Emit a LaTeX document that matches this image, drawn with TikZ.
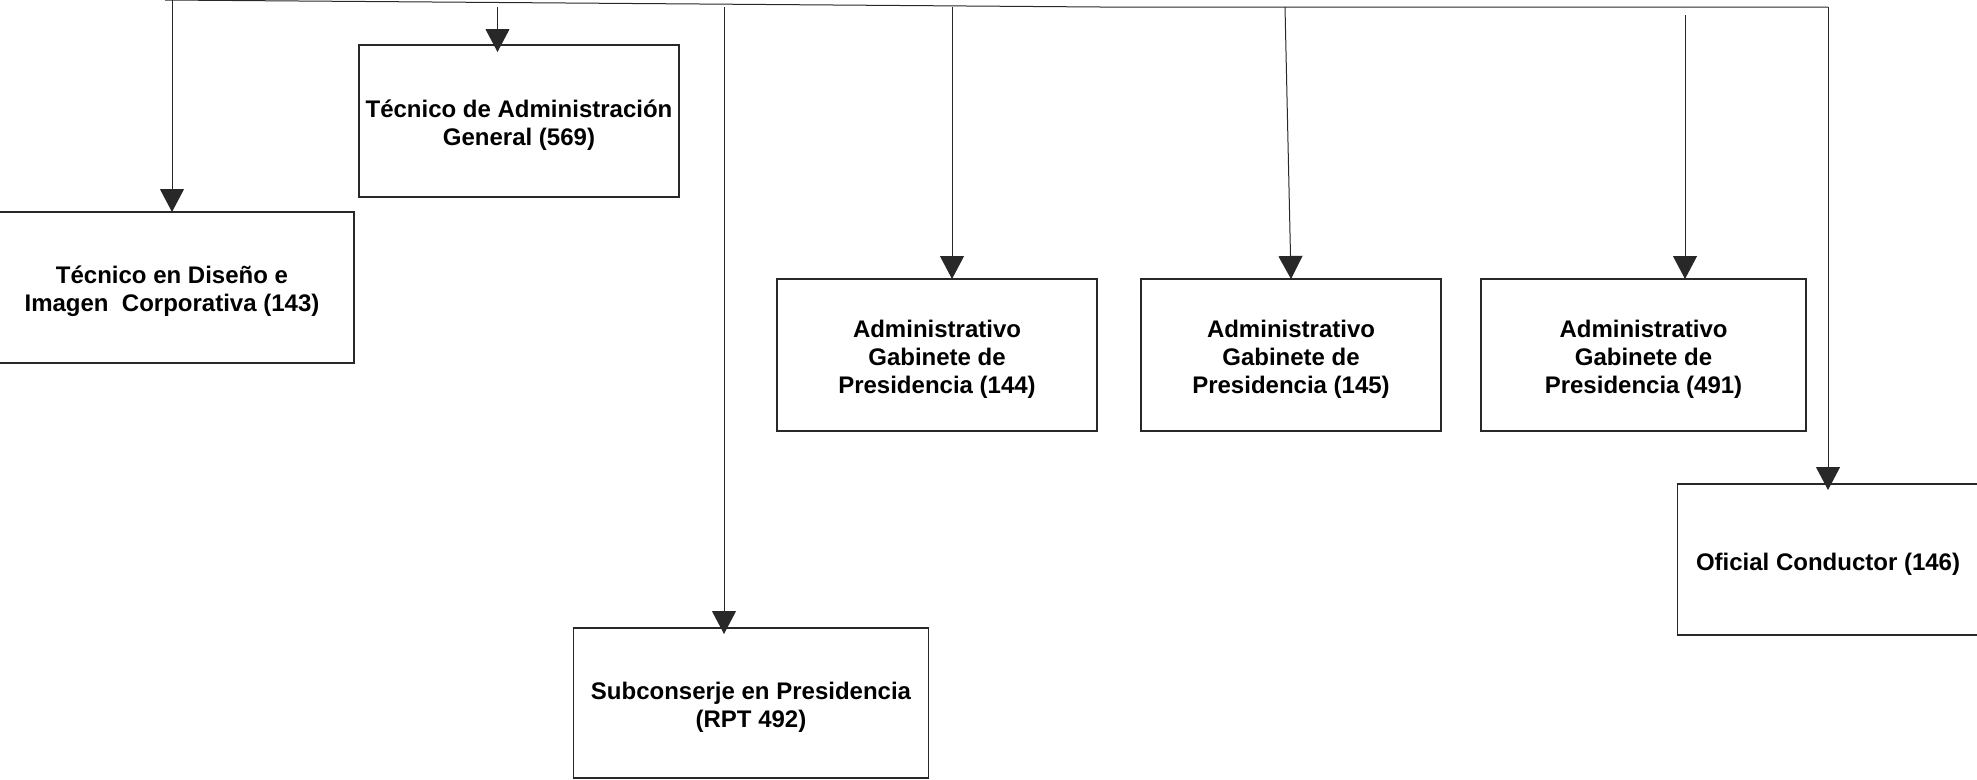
\documentclass[tikz,border=0pt]{standalone}
\usepackage{fontspec}
\setmainfont{Liberation Sans}
\usepackage{tikz}
\usetikzlibrary{arrows.meta,calc,positioning}
\usepackage{xcolor}
\definecolor{Trazo}{RGB}{40,40,40}
\tikzset{
  puesto/.style={draw=Trazo, line width=1.1pt, inner sep=0pt, outer sep=0pt, align=center,
    font=\fontsize{24}{28}\selectfont\bfseries},
  enlace/.style={draw=Trazo, line width=1pt, -{Triangle[length=23pt,width=24pt]}},
}

\begin{document}
\begin{tikzpicture}[x=1pt,y=-1pt]
\useasboundingbox (0,0) rectangle (1977,779);
%
% puestos
\node[puesto, text height=54pt, minimum width=364pt, minimum height=151pt] (diseno) at (172,287.5) {T\'ecnico en Dise\~no e\\Imagen\ \ Corporativa (143)};
\node[puesto, text height=54pt, minimum width=320pt, minimum height=152pt] (admgral) at (519,121) {T\'ecnico de Administraci\'on\\General (569)};
\node[puesto, text height=54pt, minimum width=355pt, minimum height=150pt] (subconserje) at (751,703) {Subconserje en Presidencia\\(RPT 492)};
\node[puesto, text height=82pt, minimum width=320pt, minimum height=152pt] (adm144) at (937,355) {Administrativo\\Gabinete de\\Presidencia (144)};
\node[puesto, text height=82pt, minimum width=300pt, minimum height=152pt] (adm145) at (1291,355) {Administrativo\\Gabinete de\\Presidencia (145)};
\node[puesto, text height=82pt, minimum width=325pt, minimum height=152pt] (adm491) at (1643.5,355) {Administrativo\\Gabinete de\\Presidencia (491)};
\node[puesto, text height=26pt, minimum width=301pt, minimum height=151pt] (conductor) at (1828,559.5) {Oficial Conductor (146)};
%
% linea superior
\coordinate (busA) at (165,0);
\coordinate (busB) at (1100,7);
\coordinate (busC) at (1828,7);
\draw[draw=Trazo, line width=1pt] (busA) -- (busB) -- (busC);
%
\coordinate (d1) at (172,0);
\coordinate (d2) at (497.5,7);
\coordinate (d3) at (724,7);
\coordinate (d4) at (952,7);
\coordinate (d5) at (1285,7);
\coordinate (d6) at (1685,15);
%
\draw[enlace] (d1) -- (d1 |- diseno.north);
\draw[enlace, shorten >=-7pt] (d2) -- (d2 |- admgral.north);
\draw[enlace, shorten >=-6pt] (d3) -- (d3 |- subconserje.north);
\draw[enlace] (d4) -- (d4 |- adm144.north);
\draw[enlace] (d5) -- (adm145.north);
\draw[enlace] (d6) -- (d6 |- adm491.north);
\draw[enlace, shorten >=-6pt] (busC) -- (conductor.north);
%
\end{tikzpicture}
\end{document}
